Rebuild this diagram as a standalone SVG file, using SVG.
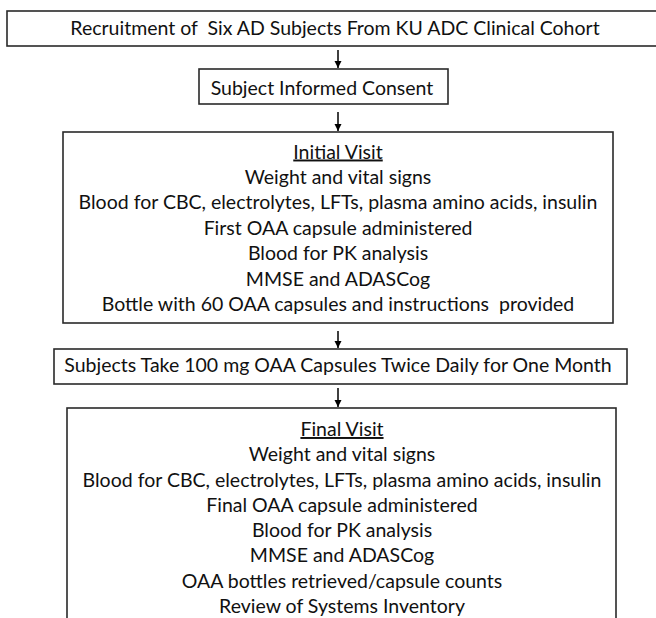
<svg xmlns="http://www.w3.org/2000/svg" width="656" height="618" viewBox="0 0 656 618">
<defs>
<marker id="ah" markerWidth="8" markerHeight="8" refX="7" refY="3.5" orient="auto" markerUnits="userSpaceOnUse">
<path d="M0,0 L7,3.5 L0,7 Z" fill="#000"/>
</marker>
</defs>
<style>
.box{fill:#fff;stroke:#2a2a2a;stroke-width:1.6}
text{font-family:Lato,"Liberation Sans",sans-serif;font-size:19.5px;fill:#111;text-anchor:middle;white-space:pre}
.u{text-decoration:underline}
.c{stroke:#000;stroke-width:1.5;fill:none}
</style>
<rect width="656" height="618" fill="#fff"/>
<g id="recruitment">
<rect class="box" x="7" y="11" width="660" height="35"/>
<text x="335" y="35" xml:space="preserve">Recruitment of  Six AD Subjects From KU ADC Clinical Cohort</text>
</g>
<g id="consent">
<rect class="box" x="199" y="69" width="249" height="35"/>
<text x="322" y="95">Subject Informed Consent</text>
</g>
<g id="initial-visit">
<rect class="box" x="63" y="132" width="550" height="191"/>
<text class="u" x="338" y="158.5">Initial Visit</text>
<text x="338" y="184">Weight and vital signs</text>
<text x="338" y="209">Blood for CBC, electrolytes, LFTs, plasma amino acids, insulin</text>
<text x="338" y="234.5">First OAA capsule administered</text>
<text x="338" y="260">Blood for PK analysis</text>
<text x="338" y="285.5">MMSE and ADASCog</text>
<text x="338" y="311" xml:space="preserve">Bottle with 60 OAA capsules and instructions  provided</text>
</g>
<g id="daily-dosing">
<rect class="box" x="54" y="349" width="573" height="35"/>
<text x="338" y="372">Subjects Take 100 mg OAA Capsules Twice Daily for One Month</text>
</g>
<g id="final-visit">
<rect class="box" x="67" y="408" width="549" height="230"/>
<text class="u" x="342" y="436">Final Visit</text>
<text x="342" y="461">Weight and vital signs</text>
<text x="342" y="486.5">Blood for CBC, electrolytes, LFTs, plasma amino acids, insulin</text>
<text x="342" y="512">Final OAA capsule administered</text>
<text x="342" y="537">Blood for PK analysis</text>
<text x="342" y="562">MMSE and ADASCog</text>
<text x="342" y="587.5">OAA bottles retrieved/capsule counts</text>
<text x="342" y="612.5">Review of Systems Inventory</text>
</g>
<g id="connectors">
<line class="c" x1="338" y1="50" x2="338" y2="68" marker-end="url(#ah)"/>
<line class="c" x1="338" y1="112" x2="338" y2="131" marker-end="url(#ah)"/>
<line class="c" x1="338" y1="331" x2="338" y2="348" marker-end="url(#ah)"/>
<line class="c" x1="338" y1="388" x2="338" y2="407" marker-end="url(#ah)"/>
</g>
</svg>
